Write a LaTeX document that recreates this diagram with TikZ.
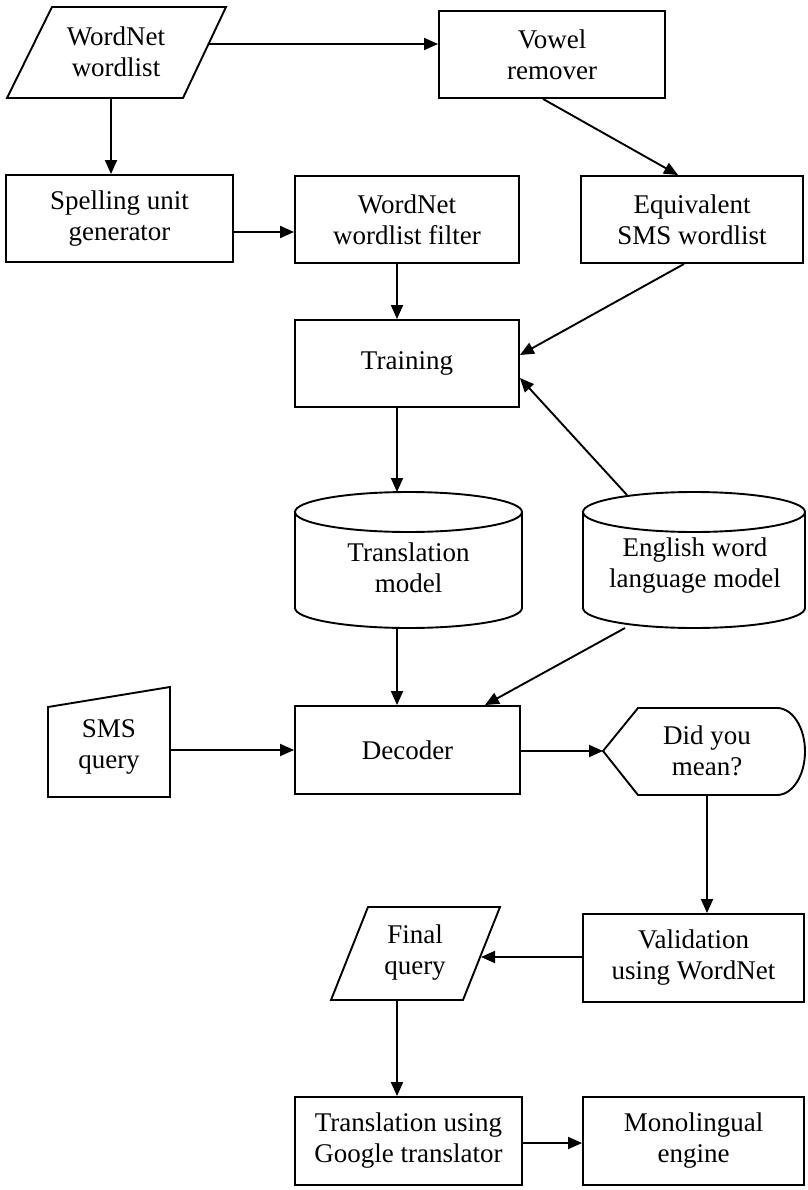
\documentclass[tikz,border=0pt]{standalone}
\usepackage{fontspec}
\setmainfont{Liberation Serif}
\usetikzlibrary{arrows.meta,calc}
\begin{document}
\begin{tikzpicture}[x=1pt,y=-1pt,line width=1.9pt,line join=miter,
  txt/.style={inner sep=0pt,align=center,font=\fontsize{27}{31}\selectfont},
  box/.style={txt,draw,rectangle},
  arr/.style={-{Triangle[length=14pt,width=12pt]}}]
\useasboundingbox (0,0) rectangle (807,1190);

% ---- input / output shapes drawn as paths
% WordNet wordlist (data)
\draw (52,7) -- (226,7) -- (183,98) -- (7,98) -- cycle;
\node[txt] (wn) at (116,52) {WordNet\\wordlist};
\coordinate (wnR) at (209,44);
\coordinate (wnB) at (111,98);

% SMS query (manual input)
\draw (48,707) -- (170,687) -- (170,797) -- (48,797) -- cycle;
\node[txt] (sms) at (109,747) {SMS\\query};
\coordinate (smsR) at (170,750);

% Did you mean? (display)
\draw (603,751) -- (638,708) -- (777,708) arc[start angle=-90,end angle=90,x radius=28,y radius=43.5] -- (638,795) -- cycle;
\node[txt] (dym) at (707,751) {Did you\\mean?};
\coordinate (dymL) at (603,751);
\coordinate (dymB) at (707,795);

% Final query (data)
\draw (368,907) -- (500,907) -- (463,1000) -- (331,1000) -- cycle;
\node[txt] (fq) at (415,953) {Final\\query};
\coordinate (fqR) at (481,957);
\coordinate (fqB) at (397,1000);

% ---- databases
\draw (295,512) -- (295,608) arc[start angle=180,end angle=360,x radius=113.5,y radius=-20] -- (522,512);
\draw (408.5,512) ellipse[x radius=113.5,y radius=20];
\node[txt] (tm) at (408.5,568) {Translation\\model};
\coordinate (tmT) at (397,492);
\coordinate (tmB) at (397,628);

\draw (583,512) -- (583,608) arc[start angle=180,end angle=360,x radius=111,y radius=-20] -- (805,512);
\draw (694,512) ellipse[x radius=111,y radius=20];
\node[txt] (elm) at (695,566) {English word\\language model};
\coordinate (elmT) at (627,495);
\coordinate (elmB) at (625,628);

% ---- process boxes
\node[box,minimum width=226pt,minimum height=87pt] (vowel) at (552,54.5) {Vowel\\remover};
\node[box,minimum width=227pt,minimum height=87pt] (spell) at (119.5,218.5) {Spelling unit\\generator};
\node[box,minimum width=224pt,minimum height=87pt] (filter) at (407,219.5) {WordNet\\wordlist filter};
\node[box,minimum width=222pt,minimum height=87pt] (equiv) at (692,219.5) {Equivalent\\SMS wordlist};
\node[box,minimum width=224pt,minimum height=87pt] (train) at (407,363.5) {Training};
\node[box,minimum width=225pt,minimum height=88pt] (dec) at (407.5,750) {Decoder};
\node[box,minimum width=221pt,minimum height=88pt] (valid) at (693.5,958) {Validation\\using WordNet};
\node[box,minimum width=227pt,minimum height=88pt] (goog) at (408.5,1141) {Translation using\\Google translator};
\node[box,minimum width=221pt,minimum height=88pt] (mono) at (693.5,1141) {Monolingual\\engine};

% ---- connectors
\draw[arr] (wnR) -- (vowel.west |- wnR);
\draw[arr] (wnB) -- (wnB |- spell.north);
\draw[arr] ([xshift=-9pt]vowel.south) -- ([xshift=-14pt]equiv.north);
\draw[arr] (spell.east |- 0,232) -- (filter.west |- 0,232);
\draw[arr] (filter.south -| 397,0) -- (train.north -| 397,0);
\draw[arr] (equiv.south -| 684,0) -- (train.east |- 0,355);
\draw[arr] (elmT) -- (train.east |- 0,378);
\draw[arr] (train.south -| tmT) -- (tmT);
\draw[arr] (tmB) -- (dec.north -| tmB);
\draw[arr] (elmB) -- (dec.north -| 485,0);
\draw[arr] (smsR) -- (dec.west |- smsR);
\draw[arr] (dec.east |- dymL) -- (dymL);
\draw[arr] (dymB) -- (valid.north -| dymB);
\draw[arr] (valid.west |- fqR) -- (fqR);
\draw[arr] (fqB) -- (goog.north -| fqB);
\draw[arr] (goog.east |- 0,1143) -- (mono.west |- 0,1143);
\end{tikzpicture}
\end{document}
